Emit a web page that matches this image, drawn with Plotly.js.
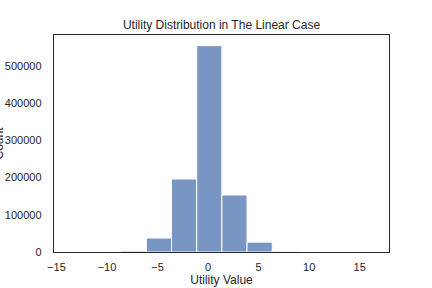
<!DOCTYPE html>
<html>
<head>
<meta charset="utf-8">
<script src="https://cdn.plot.ly/plotly-3.0.1.min.js"></script>
<style>html,body{margin:0;padding:0;background:#fff;}#chart{width:432px;height:288px;}</style>
</head>
<body>
<div id="chart"></div>
<script>
// Histogram bins (left edges) and counts
const binStart = -13.58;
const binWidth = 2.491;
const counts = [10, 150, 3000, 37500, 196000, 554000, 153000, 26500, 2300, 150, 15, 2];
const xTickVals = [-15, -10, -5, 0, 5, 10, 15];
const yTickVals = [0, 100000, 200000, 300000, 400000, 500000];

const centers = counts.map((c, i) => binStart + binWidth * (i + 0.5));
const widths = counts.map(() => binWidth);

const textColor = 'rgb(38,38,38)';
const fontFam = 'Liberation Sans, Arial, sans-serif';

const trace = {
  type: 'bar',
  x: centers,
  y: counts,
  width: widths,
  marker: {color: 'rgba(76,114,176,0.75)', line: {color: '#ffffff', width: 1}},
  hoverinfo: 'none'
};

const layout = {
  width: 432, height: 288,
  margin: {l: 54, r: 43, t: 35, b: 36, pad: 0},
  paper_bgcolor: '#ffffff', plot_bgcolor: '#ffffff',
  showlegend: false,
  bargap: 0,
  font: {family: fontFam, color: textColor, size: 11},
  title: {text: 'Utility Distribution in The Linear Case', font: {size: 12, color: textColor, family: fontFam},
          x: 0.5, xref: 'paper', y: (288 - 24.5) / 288, yref: 'container', yanchor: 'middle'},
  xaxis: {
    range: [-15.24, 17.9], tickvals: xTickVals, ticks: 'outside', ticklen: 5, tickcolor: 'rgba(0,0,0,0)',
    showgrid: false, zeroline: false,
    showline: true, linecolor: textColor, linewidth: 1.25, mirror: true,
    tickfont: {size: 11, color: textColor},
    title: {text: 'Utility Value', font: {size: 12, color: textColor}, standoff: 3}
  },
  yaxis: {
    range: [0, 582600], tickvals: yTickVals, ticks: 'outside', ticklen: 9, tickcolor: 'rgba(0,0,0,0)',
    showgrid: false, zeroline: false,
    showline: true, linecolor: textColor, linewidth: 1.25, mirror: true,
    tickfont: {size: 11, color: textColor}, tickformat: 'd',
    title: {text: ''}
  },
  annotations: [{
    text: 'Count', textangle: -90, xref: 'paper', yref: 'paper',
    x: (-2 - 54) / 335, y: 0.5, xanchor: 'center', yanchor: 'middle',
    showarrow: false, font: {size: 12, color: textColor, family: fontFam}
  }]
};

Plotly.newPlot('chart', [trace], layout, {staticPlot: true, displayModeBar: false});
</script>
</body>
</html>
